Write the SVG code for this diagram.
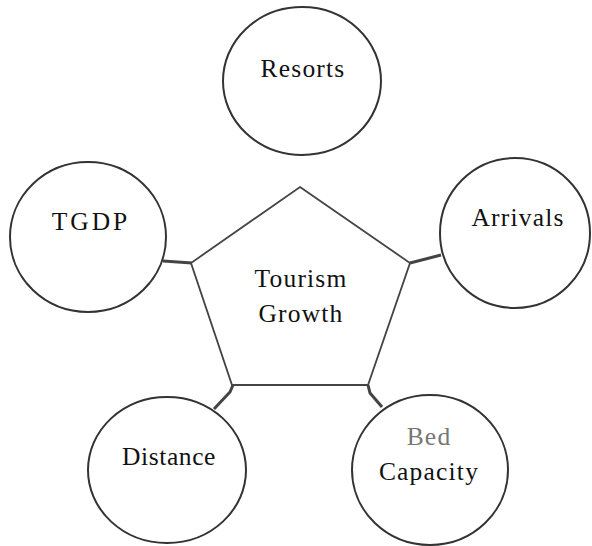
<svg xmlns="http://www.w3.org/2000/svg" width="592" height="546" viewBox="0 0 592 546">
<style>
.node{fill:#fff;stroke:#333;stroke-width:2}
.lbl{font-family:"Liberation Serif","Times New Roman",serif;font-size:25.5px;letter-spacing:1.2px;fill:#111;text-anchor:middle}
.conn{stroke:#444;stroke-width:3;fill:none}
</style>
<rect width="592" height="546" fill="#fff"/>
<g id="connectors">
<line class="conn" x1="163" y1="261" x2="192" y2="263"/>
<line class="conn" x1="410" y1="263" x2="441" y2="255"/>
<polyline class="conn" points="233,385 230,392 214,409"/>
<polyline class="conn" points="368,385 370,393 382,407"/>
</g>
<g id="center">
<polygon class="node" points="300,187 410,263 368,385 232,385 191,263" style="stroke:#444;stroke-width:1.8"/>
<text class="lbl" x="301" y="287">Tourism</text>
<text class="lbl" x="301" y="322">Growth</text>
</g>
<g id="resorts">
<ellipse class="node" cx="302" cy="81" rx="79" ry="74"/>
<text class="lbl" x="303" y="77">Resorts</text>
</g>
<g id="tgdp">
<ellipse class="node" cx="88" cy="237" rx="78" ry="75"/>
<text class="lbl" x="91" y="230" style="letter-spacing:3px">TGDP</text>
</g>
<g id="arrivals">
<ellipse class="node" cx="515" cy="233" rx="75" ry="75"/>
<text class="lbl" x="518" y="226">Arrivals</text>
</g>
<g id="distance">
<ellipse class="node" cx="167" cy="470" rx="79" ry="73"/>
<text class="lbl" x="169" y="465" style="letter-spacing:0.6px">Distance</text>
</g>
<g id="bedcapacity">
<ellipse class="node" cx="430" cy="470" rx="78" ry="75"/>
<text class="lbl" x="429" y="445" style="fill:#777">Bed</text>
<text class="lbl" x="429" y="480">Capacity</text>
</g>
</svg>
